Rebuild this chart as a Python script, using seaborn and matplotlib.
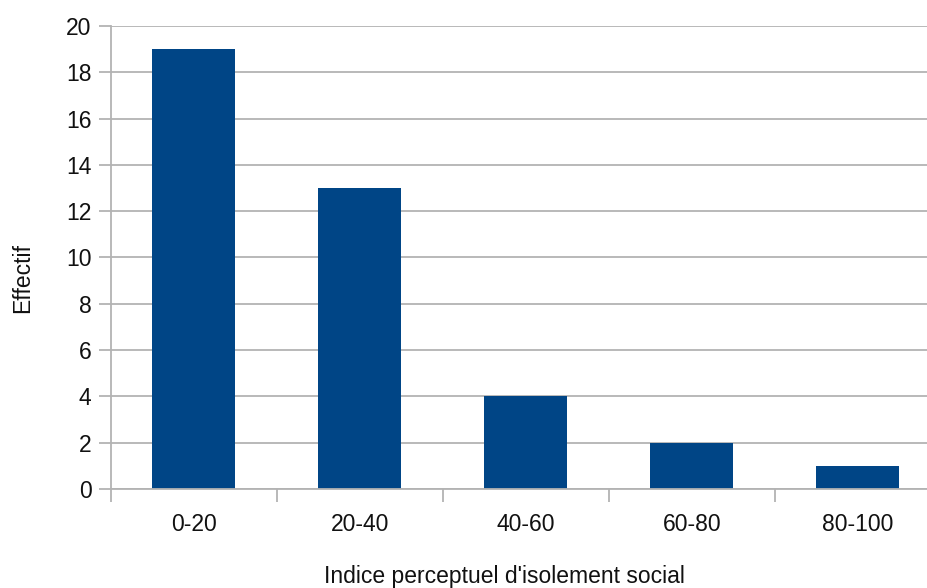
import matplotlib
matplotlib.use("Agg")
import matplotlib.pyplot as plt
import seaborn as sns
import pandas as pd
from matplotlib.ticker import MultipleLocator, FixedLocator

# Distribution of the perceived social isolation index
categories = ["0-20", "20-40", "40-60", "60-80", "80-100"]
counts = [19, 13, 4, 2, 1]
y_ticks = [0, 2, 4, 6, 8, 10, 12, 14, 16, 18, 20]

x_title = "Indice perceptuel d'isolement social"
y_title = "Effectif"

bar_color = "#004586"
grid_color = "#b3b3b3"
text_color = "#111111"

sns.set_theme(style="white")
plt.rcParams["font.family"] = ["Liberation Sans", "DejaVu Sans"]

df = pd.DataFrame({"classe": categories, "effectif": counts})

fig = plt.figure(figsize=(9.27, 5.88), dpi=100)
ax = fig.add_axes([0.1197, 0.1684, 0.8954, 0.7874])

sns.barplot(data=df, x="classe", y="effectif", order=categories,
            color=bar_color, saturation=1, width=0.5, linewidth=0, ax=ax)

ax.set_xlim(-0.5, len(categories) - 0.5)
ax.set_ylim(0, 20)
ax.set_yticks(y_ticks)
ax.yaxis.grid(True, color=grid_color, linewidth=1.3)
ax.set_axisbelow(True)

for side in ["top", "right"]:
    ax.spines[side].set_visible(False)
for side in ["left", "bottom"]:
    ax.spines[side].set_color(grid_color)
    ax.spines[side].set_linewidth(1.3)

# category separators drawn as minor ticks below the axis
ax.xaxis.set_minor_locator(FixedLocator([i - 0.5 for i in range(len(categories))]))
ax.tick_params(axis="x", which="major", length=0, pad=17, labelsize=16.5,
               labelcolor=text_color)
ax.tick_params(axis="x", which="minor", length=9.5, width=1.3, color=grid_color,
               bottom=True)
ax.tick_params(axis="y", which="major", length=8.6, width=1.3, color=grid_color,
               pad=5.5, labelsize=16.5, labelcolor=text_color, left=True)

ax.set_xlabel(x_title, fontsize=16.5, color=text_color)
ax.set_ylabel(y_title, fontsize=16.5, color=text_color)
ax.xaxis.label.set_va("center")
ax.yaxis.label.set_va("center")
ax.xaxis.set_label_coords(0.4735, -0.188)
ax.yaxis.set_label_coords(-0.107, 0.456)

fig.savefig("out.png", dpi=100)
